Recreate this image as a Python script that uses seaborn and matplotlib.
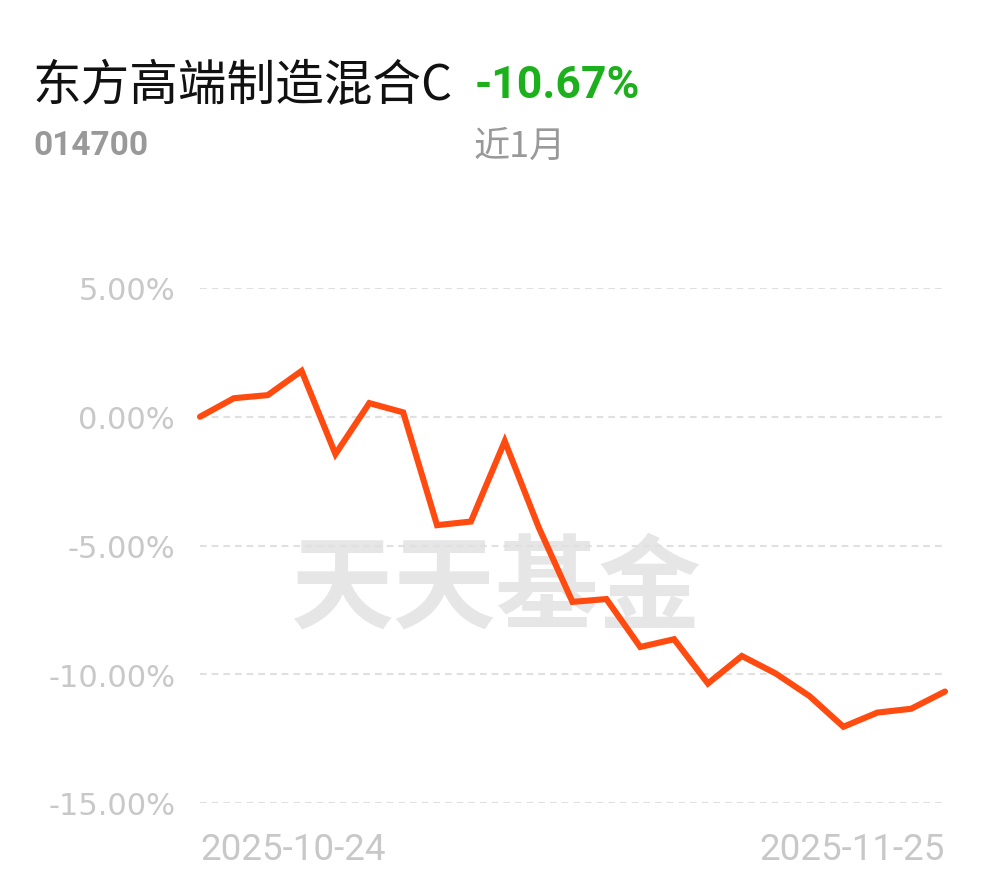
import matplotlib
matplotlib.use("Agg")
import matplotlib.pyplot as plt
import seaborn as sns
import pandas as pd

dates = ["2025-10-24", "2025-10-27", "2025-10-28", "2025-10-29", "2025-10-30", "2025-10-31",
         "2025-11-03", "2025-11-04", "2025-11-05", "2025-11-06", "2025-11-07",
         "2025-11-10", "2025-11-11", "2025-11-12", "2025-11-13", "2025-11-14",
         "2025-11-17", "2025-11-18", "2025-11-19", "2025-11-20", "2025-11-21",
         "2025-11-24", "2025-11-25"]
returns = [0.00, 0.72, 0.84, 1.78, -1.45, 0.53, 0.17, -4.21, -4.07, -0.95, -4.29,
           -7.19, -7.08, -8.94, -8.64, -10.36, -9.29, -9.97, -10.85, -12.04, -11.49,
           -11.34, -10.67]
y_ticks = [5, 0, -5, -10, -15]
fund_name = "东方高端制造混合C"
fund_code = "014700"
period_return = "-10.67%"
period_label = "近1月"
watermark = "天天基金"

sns.set_theme(style="white")
plt.rcParams['font.family'] = ['DejaVu Sans', 'Noto Sans CJK SC']

df = pd.DataFrame({"idx": range(len(dates)), "date": dates, "ret": returns})

fig = plt.figure(figsize=(9.9, 8.78), dpi=100)
ax = fig.add_axes([200/990, (878-804)/878, (945-200)/990, (804-289)/878])
ax.patch.set_alpha(0)
ax.set_zorder(2)

# watermark (behind the axes content)
fig.text(496/990, 1 - 590/878, watermark, ha="center", va="center",
         fontsize=74, color="#e6e6e6", fontweight="bold",
         family=["Noto Sans CJK SC"], zorder=0)

sns.lineplot(data=df, x="idx", y="ret", ax=ax, color="#FF4A10", linewidth=4.4,
             clip_on=False, zorder=5)
for line in ax.lines:
    line.set_solid_joinstyle("miter")
    line.set_solid_capstyle("round")

ax.set_xlim(0, len(dates) - 1)
ax.set_ylim(-15, 5)
ax.set_yticks(y_ticks)
ax.set_yticklabels([f"{v:.2f}%" for v in y_ticks])
ax.set_xticks([0, len(dates) - 1])
ax.set_xticklabels([dates[0], dates[-1]])
xl = ax.get_xticklabels()
xl[0].set_ha("left")
xl[1].set_ha("right")
for t in xl:
    t.set_family(["Roboto"])
ax.tick_params(axis="y", length=0, pad=18, labelsize=22, labelcolor="#c8c8c8")
ax.tick_params(axis="x", length=0, pad=20, labelsize=26.5, labelcolor="#c8c8c8")
ax.set_xlabel("")
ax.set_ylabel("")
for s in ax.spines.values():
    s.set_visible(False)
ax.yaxis.grid(True, color="#e0e0e0", linewidth=1.5, linestyle=(0, (3.2, 2.4)))
ax.xaxis.grid(False)
ax.set_axisbelow(True)

# header
fig.text(33/990, 1 - 86/878, fund_name, ha="left", va="center", fontsize=35,
         color="#111111", family=["Noto Sans CJK SC", "DejaVu Sans"])
fig.text(475/990, 1 - 86/878, period_return, ha="left", va="center", fontsize=32,
         color="#1DB01D", fontweight="bold", family=["Roboto"])
fig.text(33/990, 1 - 146/878, fund_code, ha="left", va="center", fontsize=24,
         color="#999999", fontweight="bold", family=["Roboto"])
fig.text(474/990, 1 - 147/878, period_label, ha="left", va="center", fontsize=26,
         color="#999999", family=["Noto Sans CJK SC", "DejaVu Sans"])

fig.savefig("out.png", dpi=100, facecolor="white")
